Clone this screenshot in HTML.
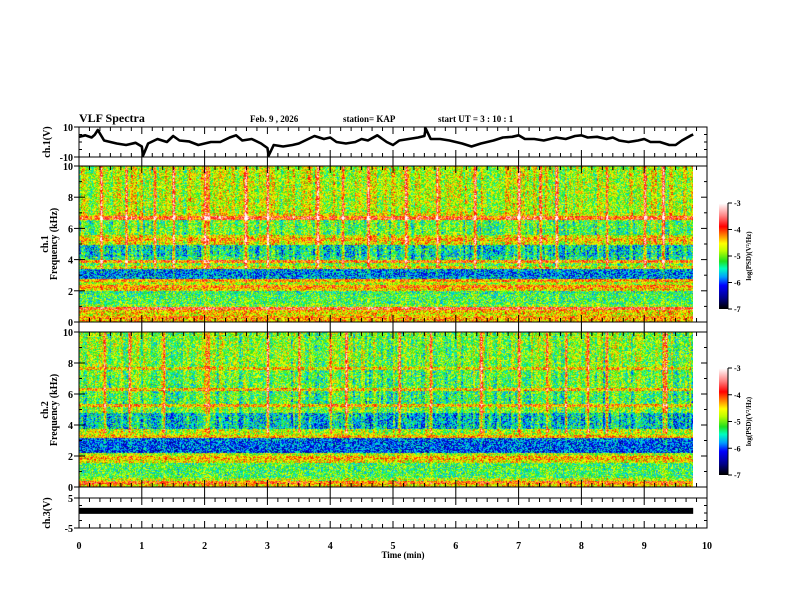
<!DOCTYPE html>
<html><head><meta charset="utf-8">
<style>
html,body{margin:0;padding:0;background:#fff;}
#wrap{position:relative;width:792px;height:612px;overflow:hidden;background:#fff;}
canvas{position:absolute;}
svg{position:absolute;left:0;top:0;}
text{font-family:"Liberation Serif",serif;font-weight:bold;fill:#000;}
</style></head>
<body>
<div id="wrap">
<canvas id="spec1" width="614" height="156" style="left:79px;top:166px"></canvas>
<canvas id="spec2" width="614" height="155" style="left:79px;top:332px"></canvas>
<canvas id="cb1" width="9" height="106" style="left:719px;top:203px"></canvas>
<canvas id="cb2" width="9" height="107" style="left:719px;top:368px"></canvas>
<svg id="fig" width="792" height="612"></svg>
</div>
<script>
// ---- data ----
const timeTicks = [0,1,2,3,4,5,6,7,8,9,10];
const freqTicks = [0,2,4,6,8,10];
const cbTicks = [-3,-4,-5,-6,-7];
const ch1Times = [0,0.1,0.2,0.25,0.3,0.4,0.5,0.6,0.75,0.9,1.0,1.02,1.1,1.25,1.4,1.5,1.6,1.75,1.9,2.0,2.1,2.25,2.4,2.5,2.6,2.75,2.9,3.0,3.02,3.1,3.25,3.4,3.5,3.6,3.75,3.9,4.0,4.1,4.25,4.4,4.5,4.6,4.75,4.9,5.0,5.1,5.25,5.4,5.5,5.52,5.6,5.75,5.9,6.0,6.1,6.25,6.4,6.5,6.6,6.75,6.9,7.0,7.1,7.25,7.4,7.5,7.6,7.75,7.9,8.0,8.1,8.25,8.4,8.5,8.6,8.75,8.9,9.0,9.1,9.25,9.4,9.5,9.6,9.75,9.78];
const ch1Volts = [3.5,4.5,3,4.8,8,1,0,-1,-2,-0.5,-3,-9,-1,2,0,4,1,0.4,-2,-1,0,0,3,4.5,1,2,-1,-4,-9,-2,-3,-2,-1,1,4,2,3,0,-1,0,2,1,4.5,0,-2,1,2,3,4,9,2,2,1,0,-1,-3,-1,0,1,3,3.5,4.5,2,2,1,2,3,2,4,4.5,3,3.5,2,3,1,0,1,2,0,0,-2,-2,1,4.5,5];
const ch3Times = [0,9.78];
const ch3Volts = [0.7,0.7];
// mean log PSD per 0.2 kHz band, 0 -> 10 kHz
const ch1Profile = [-4.4,-4.3,-4.6,-4.5,-3.8,-5.0,-5.2,-5.2,-5.2,-5.3,-4.5,-4.2,-4.8,-4.3,-5.8,-5.9,-5.8,-4.6,-5.0,-4.2,-5.3,-5.5,-5.5,-5.5,-5.5,-4.6,-4.3,-4.6,-5.1,-5.1,-5.1,-5.1,-5.1,-3.9,-4.6,-4.8,-4.8,-4.8,-4.8,-4.8,-4.8,-4.8,-4.8,-4.8,-4.8,-4.8,-4.8,-4.8,-4.8,-4.8];
const ch2Profile = [-4.5,-4.1,-4.8,-5.2,-5.2,-5.2,-5.2,-5.2,-4.6,-4.4,-4.8,-6.0,-6.0,-6.0,-6.0,-5.9,-4.4,-4.8,-4.8,-5.6,-5.6,-5.6,-5.6,-5.6,-5.0,-5.0,-4.4,-5.2,-5.2,-5.2,-5.2,-4.4,-5.1,-5.1,-5.1,-5.1,-5.1,-5.1,-4.5,-5.0,-5.0,-5.0,-5.0,-5.0,-5.0,-5.0,-5.0,-5.0,-5.0,-5.0];
const ch1Streaks = [0.35,0.75,1.2,1.5,2.0,2.05,2.65,3.0,3.8,4.2,4.6,5.2,5.7,6.3,7.0,7.35,7.6,8.4,9.0,9.3];
const ch2Streaks = [0.4,0.8,1.35,2.02,2.06,3.0,3.5,4.0,4.25,5.1,5.6,6.4,7.0,7.45,7.75,8.1,8.4,9.3,9.35];
const dataEnd = 9.78;

// ---- scales ----
const X0=79, X1=707;
const xs = t => X0 + (X1-X0)*t/10;
const panels = {
  ch1:{top:127,bot:157,min:-10,max:10},
  s1:{top:166,bot:322,min:0,max:10},
  s2:{top:332,bot:487,min:0,max:10},
  ch3:{top:498,bot:528,min:-5,max:5}
};
const ys = (p,v) => p.bot - (p.bot-p.top)*(v-p.min)/(p.max-p.min);

const stops=[[0,0,0,0],[0.1,0,0,139],[0.22,0,0,255],[0.3,0,160,255],[0.38,0,255,192],[0.45,32,224,32],[0.55,192,255,0],[0.62,255,255,0],[0.7,255,128,0],[0.78,255,0,0],[0.88,255,128,128],[1,255,255,255]];
function cmap(v){let t=Math.max(0,Math.min(1,(v+7)/4));
 for(let i=1;i<stops.length;i++){if(t<=stops[i][0]){const a=stops[i-1],b=stops[i],f=(t-a[0])/(b[0]-a[0]);
 return [a[1]+f*(b[1]-a[1]),a[2]+f*(b[2]-a[2]),a[3]+f*(b[3]-a[3])];}} return [255,255,255];}
function hash(a,b){let h=(a*374761393+b*668265263)|0;h=(h^(h>>>13))*1274126177|0;return ((h^(h>>>16))>>>0)/4294967296;}

function drawSpec(id,profile,streaks,seed){
 const c=document.getElementById(id),ctx=c.getContext('2d'),W=c.width,H=c.height;
 const img=ctx.createImageData(W,H);
 const endPx=Math.round((xs(dataEnd)-X0));
 for(let x=0;x<W;x++){
  const t=x/(X1-X0)*10;
  let st=0; for(const s of streaks){const d=Math.abs(t-s)*62.8; if(d<2) st=Math.max(st,1-d/2);}
  const colN=hash(Math.floor(x/2)+seed,7)-0.5;
  for(let y=0;y<H;y++){
   const o=(y*W+x)*4;
   if(x>=endPx){img.data[o]=img.data[o+1]=img.data[o+2]=255;img.data[o+3]=255;continue;}
   const f=10*(1-y/H); const bi=Math.min(49,Math.floor(f/0.2));
   let v=profile[bi];
   const hi=f>3.5?1:0.2;
   v+= (hash(x+seed,y)-0.5)*1.3 + colN*0.7*hi + st*1.5*hi;
   const [r,g,b]=cmap(v);
   img.data[o]=r;img.data[o+1]=g;img.data[o+2]=b;img.data[o+3]=255;
  }
 }
 ctx.putImageData(img,0,0);
}
drawSpec('spec1',ch1Profile,ch1Streaks,11);
drawSpec('spec2',ch2Profile,ch2Streaks,97);
function drawCB(id){const c=document.getElementById(id),ctx=c.getContext('2d');
 for(let y=0;y<c.height;y++){const v=-3-4*y/(c.height-1);const [r,g,b]=cmap(v);ctx.fillStyle=`rgb(${r|0},${g|0},${b|0})`;ctx.fillRect(0,y,c.width,1);}}
drawCB('cb1');drawCB('cb2');

// ---- svg ----
const svg=document.getElementById('fig');const NS='http://www.w3.org/2000/svg';
function el(tag,attrs,parent){const e=document.createElementNS(NS,tag);for(const k in attrs)e.setAttribute(k,attrs[k]);(parent||svg).appendChild(e);return e;}
function txt(x,y,s,size,anchor,name,rot){const e=el('text',{x:x,y:y,'font-size':size,'text-anchor':anchor||'start'});
 if(rot)e.setAttribute('transform',`rotate(-90 ${x} ${y})`);e.textContent=s;
 
 
 return e;}

const frame=el('rect',{x:X0,y:127,width:X1-X0,height:401,fill:'none',stroke:'#000','stroke-width':1});


[157,166,322,332,487,498].forEach(y=>{const l=el('line',{x1:X0,x2:X1,y1:y,y2:y,stroke:'#000'});
 
 });

const tg=el('g',{stroke:'#000','stroke-width':1});


const edges=[[127,1],[157,-1],[166,1],[322,-1],[332,1],[487,-1],[498,1],[528,-1]];
for(let k=0;k<=60;k++){const t=k/6,x=xs(t),maj=k%6===0;
 edges.forEach(([y,d])=>{el('line',{x1:x,x2:x,y1:y,y2:y+d*(maj?7:4)},tg);});
 if(maj){[[157,166],[322,332],[487,498]].forEach(([a,b])=>el('line',{x1:x,x2:x,y1:a,y2:b},tg));}
}
timeTicks.forEach(t=>txt(xs(t),549,String(t),10,'middle','x-tick-label'));
txt(403,558,'Time  (min)',9,'middle','x-axis-title');

function yTicks(p,majors,minorStep,labels){const g=el('g',{stroke:'#000'});
 
 
 for(let v=p.min;v<=p.max+1e-9;v+=minorStep){const y=ys(p,v),maj=majors.some(m=>Math.abs(m-v)<1e-6);
  el('line',{x1:X0-(maj?5:0),x2:X0+(maj?6:3),y1:y,y2:y},g);
  el('line',{x1:X1-(maj?6:3),x2:X1,y1:y,y2:y},g);}
 labels.forEach(v=>txt(X0-6,ys(p,v)+4,String(v),10,'end','y-tick-label'));}
yTicks(panels.ch1,[-10,10],5,[10,-10]);
yTicks(panels.s1,freqTicks,1,freqTicks);
yTicks(panels.s2,freqTicks,1,freqTicks);
yTicks(panels.ch3,[-5,5],2.5,[5,-5]);

let d='';ch1Times.forEach((t,i)=>{d+=(i?'L':'M')+xs(t).toFixed(1)+' '+ys(panels.ch1,ch1Volts[i]).toFixed(1);});
const w=el('path',{d:d,fill:'none',stroke:'#000','stroke-width':2.6,'stroke-linejoin':'round'});


const b=el('line',{x1:xs(ch3Times[0]),x2:xs(ch3Times[1]),y1:ys(panels.ch3,ch3Volts[0]),y2:ys(panels.ch3,ch3Volts[1]),stroke:'#000','stroke-width':6});



function cbAxis(top,bot,label){const g=el('g',{stroke:'#000'});
 
 
 el('line',{x1:728,x2:728,y1:top,y2:bot},g);
 cbTicks.forEach((v,i)=>{const y=top+(bot-top)*i/4;el('line',{x1:728,x2:732,y1:y,y2:y},g);
  txt(734,y+3,String(v),8,'start','colorbar-tick-label');});
 txt(751,(top+bot)/2,label,7,'middle','colorbar-title',true);}
cbAxis(203,309,'log(PSD)(V²/Hz)');
cbAxis(368,475,'log(PSD)(V²/Hz)');

txt(79,122,'VLF Spectra',12,'start','figure-title');
txt(250,122,'Feb. 9  , 2026',9,'start','date-label');
txt(343,122,'station= KAP',9,'start','station-label');
txt(438,122,'start  UT =   3  : 10 : 1',9,'start','start-time-label');
txt(50,142,'ch.1(V)',10,'middle','ch1-y-title',true);
txt(48,244,'ch.1',10,'middle','spec1-y-title-channel',true);
txt(57,244,'Frequency  (kHz)',10,'middle','spec1-y-title',true);
txt(48,410,'ch.2',10,'middle','spec2-y-title-channel',true);
txt(57,410,'Frequency  (kHz)',10,'middle','spec2-y-title',true);
txt(50,513,'ch.3(V)',10,'middle','ch3-y-title',true);
</script>
</body></html>
